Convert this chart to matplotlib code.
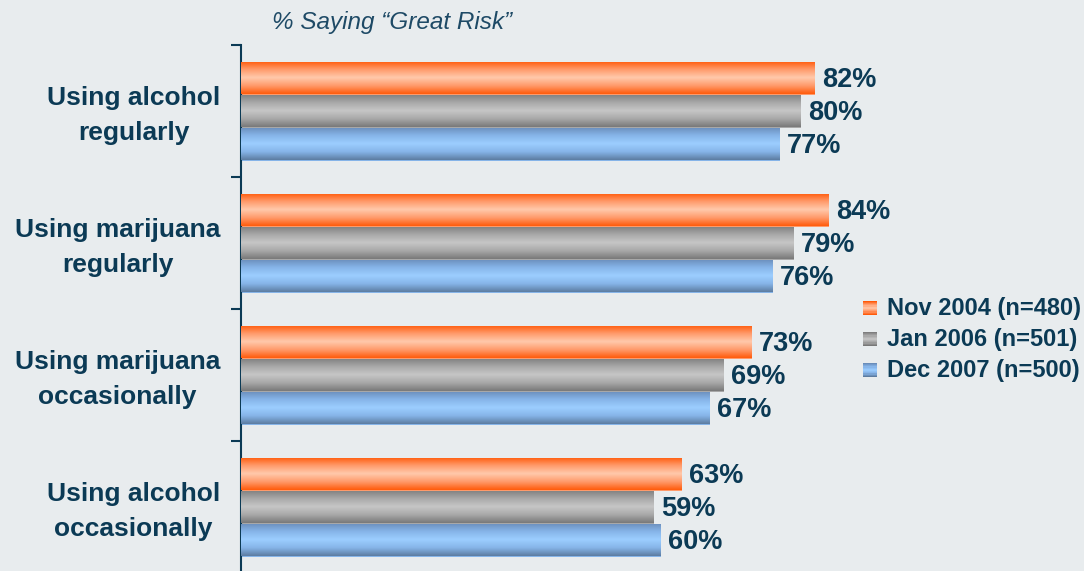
import numpy as np
import matplotlib
matplotlib.use("Agg")
import matplotlib.pyplot as plt
import matplotlib.transforms as mtrans
from matplotlib.patches import Rectangle
from matplotlib.legend_handler import HandlerBase
from matplotlib.colors import LinearSegmentedColormap

# ---- data ----
categories = ["Using alcohol\nregularly", "Using marijuana\nregularly",
              "Using marijuana\noccasionally", "Using alcohol\noccasionally"]
series_names = ["Nov 2004 (n=480)", "Jan 2006 (n=501)", "Dec 2007 (n=500)"]
nov2004 = [82, 84, 73, 63]
jan2006 = [80, 79, 69, 59]
dec2007 = [77, 76, 67, 60]
title_text = "% Saying \u201cGreat Risk\u201d"

# ---- style ----
BG = "#E8ECEE"
TXT = "#0B3A55"
grads = [
    ["#FF5A0A", "#FF9A6A", "#FFC9AC", "#FF9A6A", "#FF5A0A"],
    ["#7E7E7E", "#A8A8A8", "#C6C6C6", "#A8A8A8", "#787878"],
    ["#6A8DBA", "#86B4E8", "#9CCEFF", "#86B4E8", "#5C7CA0"],
]
mid_colors = ["#FF9A6A", "#A8A8A8", "#86B4E8"]

plt.rcParams['font.family'] = ['Liberation Sans', 'DejaVu Sans']

fig = plt.figure(figsize=(10.84, 5.71), dpi=100, facecolor=BG)
top_px, bot_px = 45, 573
ax = fig.add_axes([241 / 1084, 1 - bot_px / 571, 843 / 1084, (bot_px - top_px) / 571])
ax.set_facecolor(BG)

n = len(categories)
y = np.arange(n)
h = 0.25
all_series = [nov2004, jan2006, dec2007]
offsets = [-h, 0, h]

for s, (vals, off) in enumerate(zip(all_series, offsets)):
    bars = ax.barh(y + off, vals, height=h, color=mid_colors[s], linewidth=0, zorder=2)
    cmap = LinearSegmentedColormap.from_list(f"g{s}", grads[s])
    grad = np.linspace(0, 1, 256).reshape(-1, 1)
    for b, v in zip(bars, vals):
        x0, y0 = b.get_x(), b.get_y()
        w, hh = b.get_width(), b.get_height()
        im = ax.imshow(grad, cmap=cmap, aspect='auto',
                       extent=[x0, x0 + w, y0 + hh, y0], zorder=3,
                       interpolation='bicubic')
        im.set_clip_path(b)
        ax.annotate(f"{v}%", xy=(v, y0 + hh / 2), xytext=(5.0, -1.2),
                    textcoords='offset points', va='center', ha='left',
                    fontsize=19.5, fontweight='bold', color=TXT, zorder=4)

ax.set_xlim(0, 843 / 7.0)
ax.set_ylim(n - 0.5, -0.5)
ax.set_yticks(np.arange(n + 1) - 0.5, minor=True)
ax.set_yticks(y)
ax.set_yticklabels(categories, fontsize=19, fontweight='bold', color=TXT,
                   multialignment='center', linespacing=1.55)
ax.tick_params(axis='y', which='major', length=0, pad=15)
ax.tick_params(axis='y', which='minor', length=7, width=1.5, color=TXT, direction='out')
shift = mtrans.ScaledTranslation(0, 3 / 100, fig.dpi_scale_trans)
for lbl in ax.get_yticklabels():
    lbl.set_transform(lbl.get_transform() + shift)
ax.set_xticks([])
for sp in ['top', 'right', 'bottom']:
    ax.spines[sp].set_visible(False)
ax.spines['left'].set_color(TXT)
ax.spines['left'].set_linewidth(1.5)


class GradHandler(HandlerBase):
    def __init__(self, colors):
        super().__init__()
        self.colors = colors

    def create_artists(self, legend, orig_handle, xdescent, ydescent, width,
                       height, fontsize, trans):
        arts = []
        k = 12
        sz = height * 0.85
        x0 = width - sz
        cmap = LinearSegmentedColormap.from_list("lg", self.colors)
        for i in range(k):
            r = Rectangle((x0 - xdescent, -ydescent + sz * (1 - (i + 1) / k)),
                          sz, sz / k + 0.1, facecolor=cmap(i / (k - 1)),
                          edgecolor='none', transform=trans)
            arts.append(r)
        return arts


handles = [Rectangle((0, 0), 1, 1, color=c) for c in mid_colors]
leg = ax.legend(handles, series_names,
                handler_map={handles[i]: GradHandler(grads[i]) for i in range(3)},
                loc='upper left', bbox_to_anchor=(859 / 1084, 1 - 297 / 571),
                bbox_transform=fig.transFigure, frameon=False,
                prop={'size': 17, 'weight': 'bold'}, labelcolor=TXT,
                handlelength=0.75, handletextpad=0.45, labelspacing=0.34,
                borderpad=0, borderaxespad=0)

fig.text(272 / 1084, 1 - 22 / 571, title_text, fontsize=17.5, style='italic',
         color="#1E4A66", family=['Liberation Sans', 'DejaVu Sans'],
         va='center', ha='left')

fig.savefig("out.png", dpi=100, facecolor=BG)
